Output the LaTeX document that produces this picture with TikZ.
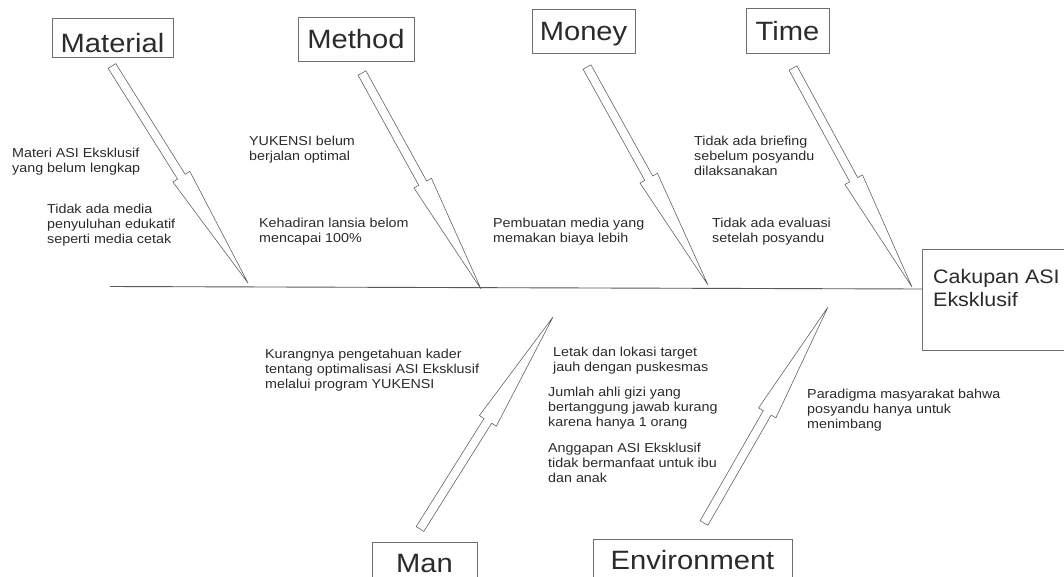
\documentclass[tikz,border=0pt]{standalone}
\usepackage{fontspec}
\setmainfont{Liberation Sans}[FakeStretch=1.1]
\usetikzlibrary{calc}
\definecolor{txt}{HTML}{2B2B2B}
\definecolor{ln}{HTML}{5A5A5A}
\definecolor{bx}{HTML}{6E6E6E}
\newcommand\fishbone[2]{%
 \coordinate (#1-h) at ($(#1)!0.51!(#2)$);
 \draw[arr] ($(#1)!4.5pt!90:(#2)$) -- ($(#1-h)!4.5pt!90:(#2)$) -- ($(#1-h)!10pt!90:(#2)$) -- (#2) -- ($(#1-h)!10pt!-90:(#2)$) -- ($(#1-h)!4.5pt!-90:(#2)$) -- ($(#1)!4.5pt!-90:(#2)$) -- cycle;}
\tikzset{
 lbl/.style={anchor=north west, inner sep=0pt, align=left, text=txt, font=\fontsize{13}{15}\selectfont},
 cat/.style={draw=bx, line width=0.8pt, inner sep=0pt, anchor=base, text=txt, font=\fontsize{26.5}{30}\selectfont},
 arr/.style={draw=ln, line width=0.55pt, line join=miter},
 spine/.style={draw=ln, line width=0.9pt}
}
\begin{document}
\begin{tikzpicture}[x=1pt,y=-1pt]
\useasboundingbox (0,0) rectangle (1064,576);
\clip (0,0) rectangle (1064,576);
\fill[white] (0,0) rectangle (1064,576);

% effect box
\node[draw=bx, line width=0.8pt, inner sep=0pt, minimum width=148pt, minimum height=101pt, anchor=north west] (eff) at (922,249) {};
\node[anchor=north west, inner sep=0pt, align=left, text=txt, font=\fontsize{19.5}{23}\selectfont] (efft) at (933,269) {Cakupan ASI\\Eksklusif};

% spine
\coordinate (sp0) at (110,286.5);
\draw[spine] (sp0) -- (eff.west |- 0,289);

% category boxes
\node[cat, minimum width=121pt, text height=34pt, text depth=5pt] (mat) at (112.5,52) {Material};
\node[cat, minimum width=116pt, text height=31pt, text depth=13pt] (met) at (356,48) {Method};
\node[cat, minimum width=103pt, text height=31pt, text depth=13pt] (mon) at (583.5,40) {Money};
\node[cat, minimum width=83pt, text height=32pt, text depth=13pt] (tim) at (787.5,40) {Time};
\node[cat, minimum width=105pt, text height=30pt, text depth=28pt] (man) at (424.5,572) {Man};
\node[cat, minimum width=199pt, text height=30pt, text depth=28pt] (env) at (692.5,569) {Environment};

% arrows
\coordinate (matT) at (112,66);  \coordinate (matP) at (248,283);
\coordinate (metT) at (362,73);  \coordinate (metP) at (481,289);
\coordinate (monT) at (587,67);  \coordinate (monP) at (708,285);
\coordinate (timT) at (793,68);  \coordinate (timP) at (912,287);
\coordinate (manT) at (420,529); \coordinate (manP) at (553,317);
\coordinate (envT) at (704,523); \coordinate (envP) at (828,307);
\fishbone{matT}{matP}
\fishbone{metT}{metP}
\fishbone{monT}{monP}
\fishbone{timT}{timP}
\fishbone{manT}{manP}
\fishbone{envT}{envP}

% causes
\node[lbl] (c1) at (12,147.6) {Materi ASI Eksklusif\\yang belum lengkap};
\node[lbl] (c2) at (47,203.6) {Tidak ada media\\penyuluhan edukatif\\seperti media cetak};
\node[lbl] (c3) at (249,135.6) {YUKENSI belum\\berjalan optimal};
\node[lbl] (c4) at (259,217.6) {Kehadiran lansia belom\\mencapai 100\%};
\node[lbl] (c5) at (493,217.6) {Pembuatan media yang\\memakan biaya lebih};
\node[lbl] (c6) at (694,135.6) {Tidak ada briefing\\sebelum posyandu\\dilaksanakan};
\node[lbl] (c7) at (712,217.6) {Tidak ada evaluasi\\setelah posyandu};
\node[lbl] (c8) at (265,348.6) {Kurangnya pengetahuan kader\\tentang optimalisasi ASI Eksklusif\\melalui program YUKENSI};
\node[lbl] (c9) at (553,346.6) {Letak dan lokasi target\\jauh dengan puskesmas};
\node[lbl] (c10) at (548,386.6) {Jumlah ahli gizi yang\\bertanggung jawab kurang\\karena hanya 1 orang};
\node[lbl] (c11) at (548,442.6) {Anggapan ASI Eksklusif\\tidak bermanfaat untuk ibu\\dan anak};
\node[lbl] (c12) at (807,388.6) {Paradigma masyarakat bahwa\\posyandu hanya untuk\\menimbang};
\end{tikzpicture}
\end{document}
